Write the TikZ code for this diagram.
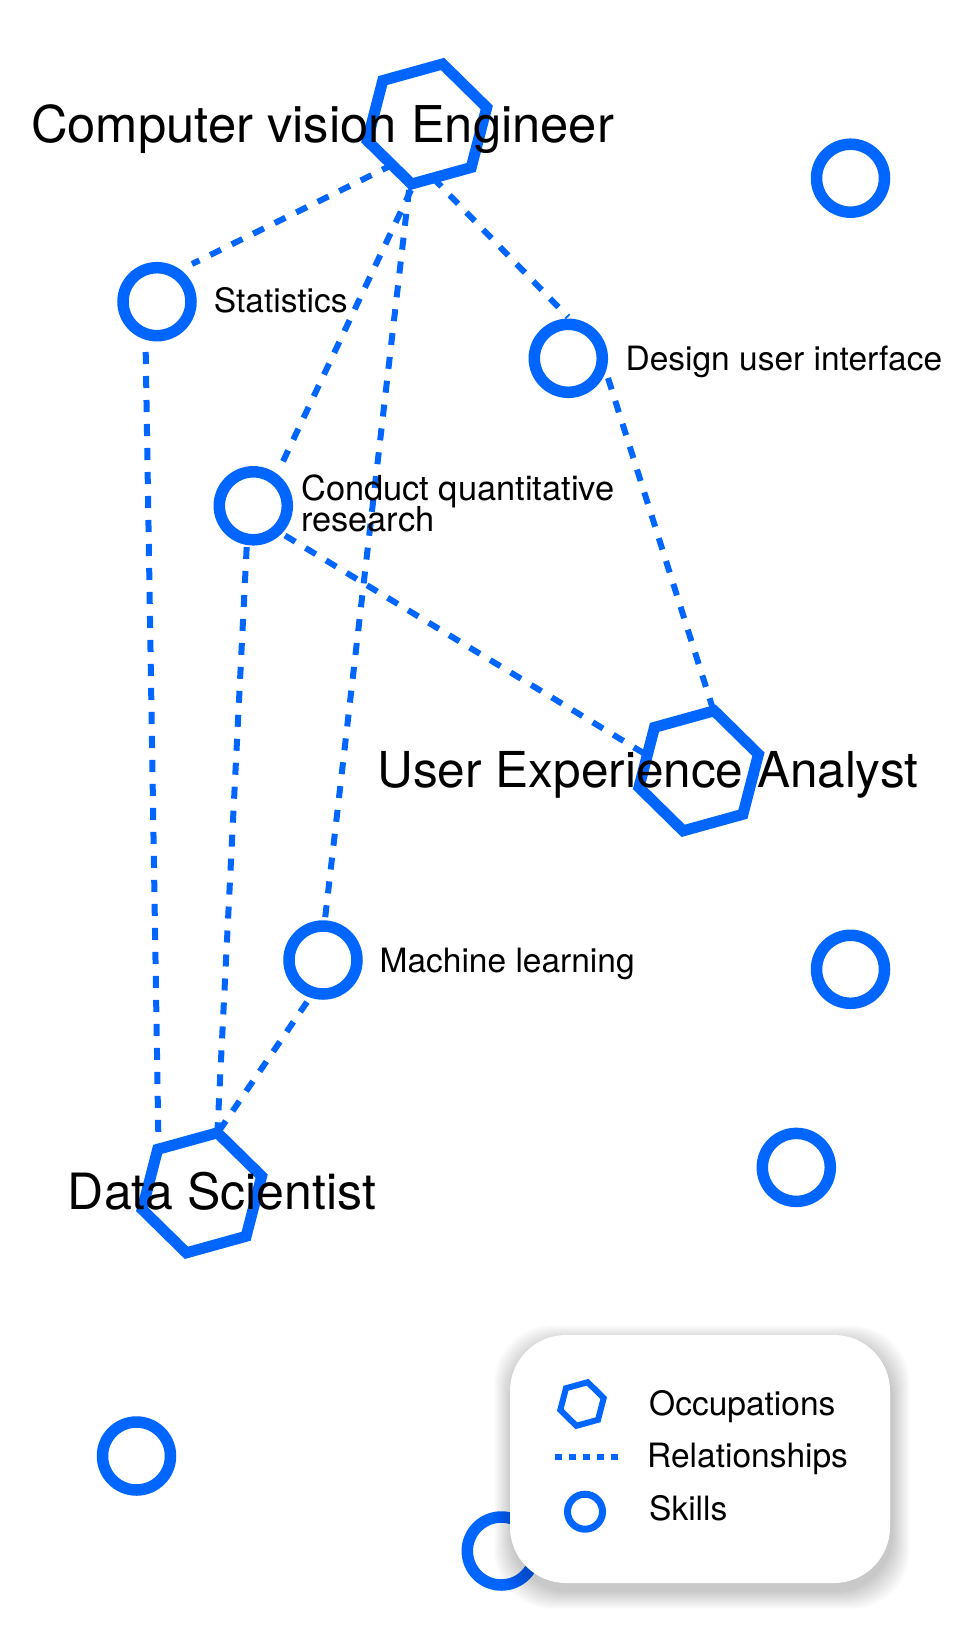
\documentclass[tikz,border=0pt]{standalone}
\usepackage{fontspec}
\setmainfont{TeX Gyre Heros}
\usetikzlibrary{shapes.geometric}
\definecolor{brand}{HTML}{0066FF}
\pgfdeclarelayer{bg}
\pgfdeclarelayer{edges}
\pgfsetlayers{bg,edges,main}
\begin{document}
\begin{tikzpicture}[x=1pt,y=-1pt,
  skill/.style={circle, draw=brand, line width=11.5pt, minimum size=68pt, inner sep=0pt},
  occ/.style={regular polygon, regular polygon sides=6, shape border rotate=15.5, draw=brand, fill=white, line width=11pt, minimum size=124pt, inner sep=0pt},
  rel/.style={draw=brand, line width=6pt, dash pattern=on 12pt off 12pt},
  big/.style={font=\fontsize{50}{50}\selectfont, anchor=base west, inner sep=0pt, text=black},
  small/.style={font=\fontsize{33.5}{29}\selectfont, anchor=base west, inner sep=0pt, text=black},
  legocc/.style={regular polygon, regular polygon sides=6, shape border rotate=15.5, draw=brand, line width=6pt, minimum size=45pt, inner sep=0pt},
  legskill/.style={circle, draw=brand, line width=7pt, minimum size=35pt, inner sep=0pt},
  legrel/.style={draw=brand, line width=6pt, dash pattern=on 7pt off 7pt},
]
\useasboundingbox (0,0) rectangle (960,1635);
\begin{pgfonlayer}{bg}
\fill[white] (0,0) rectangle (960,1635);
\end{pgfonlayer}

% occupations
\node[occ] (cve) at (427,124) {};
\node[occ] (ux) at (698.7,770.8) {};
\node[occ] (ds) at (201.9,1192.8) {};

% skills
\node[skill] (stat) at (157,301.7) {};
\node[skill] (design) at (568.3,358.3) {};
\node[skill] (conduct) at (253.3,505.8) {};
\node[skill] (ml) at (323,960) {};
\node[skill] (s1) at (850.5,178.2) {};
\node[skill] (s2) at (850.5,969.3) {};
\node[skill] (s3) at (796.3,1167.4) {};
\node[skill] (s4) at (136.5,1456) {};
\node[skill] (s5) at (501.3,1551) {};

% relationships
\begin{pgfonlayer}{edges}
\draw[rel] ([shift={(-34,40.5)}]cve.center) -- ([shift={(35,-37.7)}]stat.center);
\draw[rel] ([shift={(-16,66)}]cve.center) -- ([shift={(24.7,-33.8)}]conduct.center);
\draw[rel] ([shift={(-18,66)}]cve.center) -- ([shift={(2,-41)}]ml.center);
\draw[rel] ([shift={(6,54)}]cve.center) -- ([shift={(-0.3,-41.3)}]design.center);
\draw[rel] ([shift={(-11.3,50.3)}]stat.center) -- ([shift={(-43.4,-46.8)}]ds.center);
\draw[rel] ([shift={(-6.6,41.2)}]conduct.center) -- ([shift={(15.6,-62.8)}]ds.center);
\draw[rel] ([shift={(31.7,29.7)}]conduct.center) -- ([shift={(-53.7,-16.8)}]ux.center);
\draw[rel] ([shift={(39.7,19.7)}]design.center) -- ([shift={(13.3,-64.8)}]ux.center);
\draw[rel] ([shift={(-16,42)}]ml.center) -- ([shift={(17.1,-61.8)}]ds.center);
\end{pgfonlayer}

% labels
\node[big, font=\fontsize{50.7}{50}\selectfont] (lcve) at (31,142.8) {Computer vision Engineer};
\node[big, font=\fontsize{49.5}{50}\selectfont] (lux) at (377.3,787) {User Experience Analyst};
\node[big] (lds) at (67.7,1209) {Data Scientist};
\node[small] (lstat) at (213.7,312.7) {Statistics};
\node[small] (ldesign) at (625.4,370) {Design user interface};
\node[small, font=\fontsize{34.4}{28.5}\selectfont, align=left, anchor=base west] (lconduct) at (301,531) {Conduct quantitative\\[-3.4pt]research};
\node[small] (lml) at (379.4,972.5) {Machine learning};

% legend
\foreach \i in {1,...,18}
  \fill[black, opacity=0.010, rounded corners=58pt] (510-\i+2,1335-\i+8) rectangle (890+\i+2,1583+\i+8);
\fill[white, rounded corners=56pt] (510,1335) rectangle (890,1583);
\node[legocc] (locc) at (582,1404) {};
\coordinate (lr1) at (555,1457);
\coordinate (lr2) at (618,1457);
\draw[legrel] (lr1) -- (lr2);
\node[legskill] (lskill) at (585,1511.7) {};
\node[small] (tocc) at (649,1415) {Occupations};
\node[small] (trel) at (647,1467) {Relationships};
\node[small] (tskill) at (649,1520) {Skills};
\end{tikzpicture}
\end{document}
